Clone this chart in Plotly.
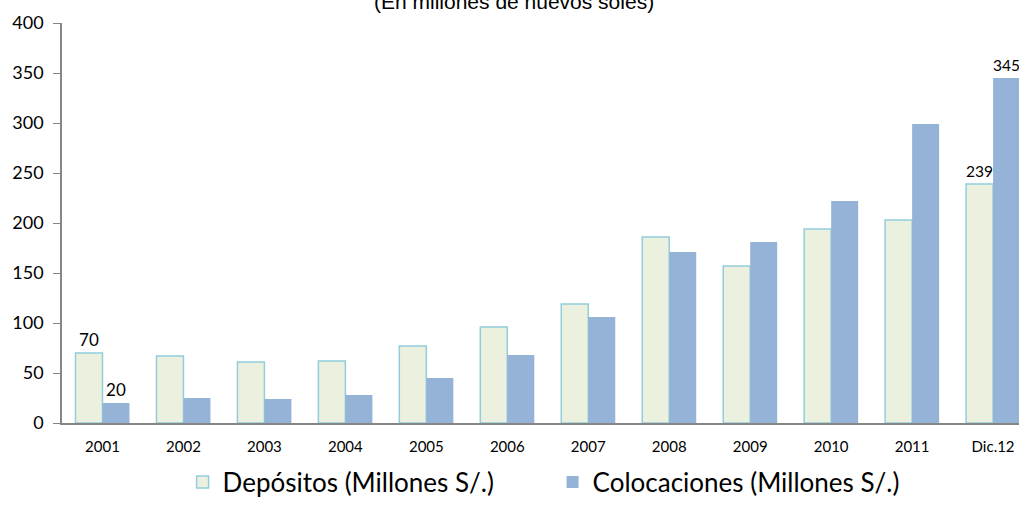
import plotly.graph_objects as go

periodos = ["2001", "2002", "2003", "2004", "2005", "2006",
            "2007", "2008", "2009", "2010", "2011", "Dic.12"]
depositos = [70, 67, 61, 62, 77, 96, 119, 186, 157, 194, 203, 239]
colocaciones = [20, 25, 24, 28, 45, 68, 106, 171, 181, 222, 299, 345]


def etiquetas(valores):
    # solo se rotulan el primer y el ultimo periodo
    return [str(v) if i in (0, len(valores) - 1) else "" for i, v in enumerate(valores)]


fig = go.Figure()

fig.add_trace(go.Bar(
    x=periodos,
    y=depositos,
    name="Depósitos (Millones S/.)",
    marker=dict(color="#EBF1DE", line=dict(color="#93CDDD", width=1.5)),
    text=etiquetas(depositos),
    textposition="outside",
    textfont=dict(size=17, color="#000000"),
    cliponaxis=False
))

fig.add_trace(go.Bar(
    x=periodos,
    y=colocaciones,
    name="Colocaciones (Millones S/.)",
    marker=dict(color="#95B3D7", line=dict(width=0)),
    text=etiquetas(colocaciones),
    textposition="outside",
    textfont=dict(size=17, color="#000000"),
    cliponaxis=False
))

fig.add_annotation(
    text="(En millones de nuevos soles)",
    xref="paper", yref="paper",
    x=0.472, y=1, xanchor="center", yanchor="middle",
    yshift=22,
    showarrow=False,
    font=dict(family="Liberation Sans, Arial", size=21, color="#000000")
)

fig.update_layout(
    width=1019,
    height=512,
    margin=dict(l=62, r=0, t=23, b=89),
    paper_bgcolor="white",
    plot_bgcolor="white",
    font=dict(family="Lato, Noto Sans, sans-serif", color="#000000"),
    barmode="group",
    bargap=0.333,
    bargroupgap=0,
    showlegend=True,
    legend=dict(
        orientation="h",
        x=0.126, y=-0.148,
        xanchor="left", yanchor="middle",
        font=dict(size=26),
        entrywidth=325,
        itemwidth=30
    ),
    xaxis=dict(
        range=[-0.5, 11.32],
        showline=True,
        linecolor="#868686",
        linewidth=1.5,
        ticks="",
        tickfont=dict(size=15),
        ticklabelstandoff=9,
        showgrid=False
    ),
    yaxis=dict(
        range=[0, 400],
        dtick=50,
        showline=True,
        linecolor="#868686",
        linewidth=1.5,
        ticks="outside",
        ticklen=7,
        tickcolor="#868686",
        tickfont=dict(size=18),
        ticklabelstandoff=6,
        showgrid=False,
        zeroline=False
    )
)

fig.write_html(
    "out.html",
    config={"displayModeBar": False},
    post_script="document.body.style.margin='0px';"
)
